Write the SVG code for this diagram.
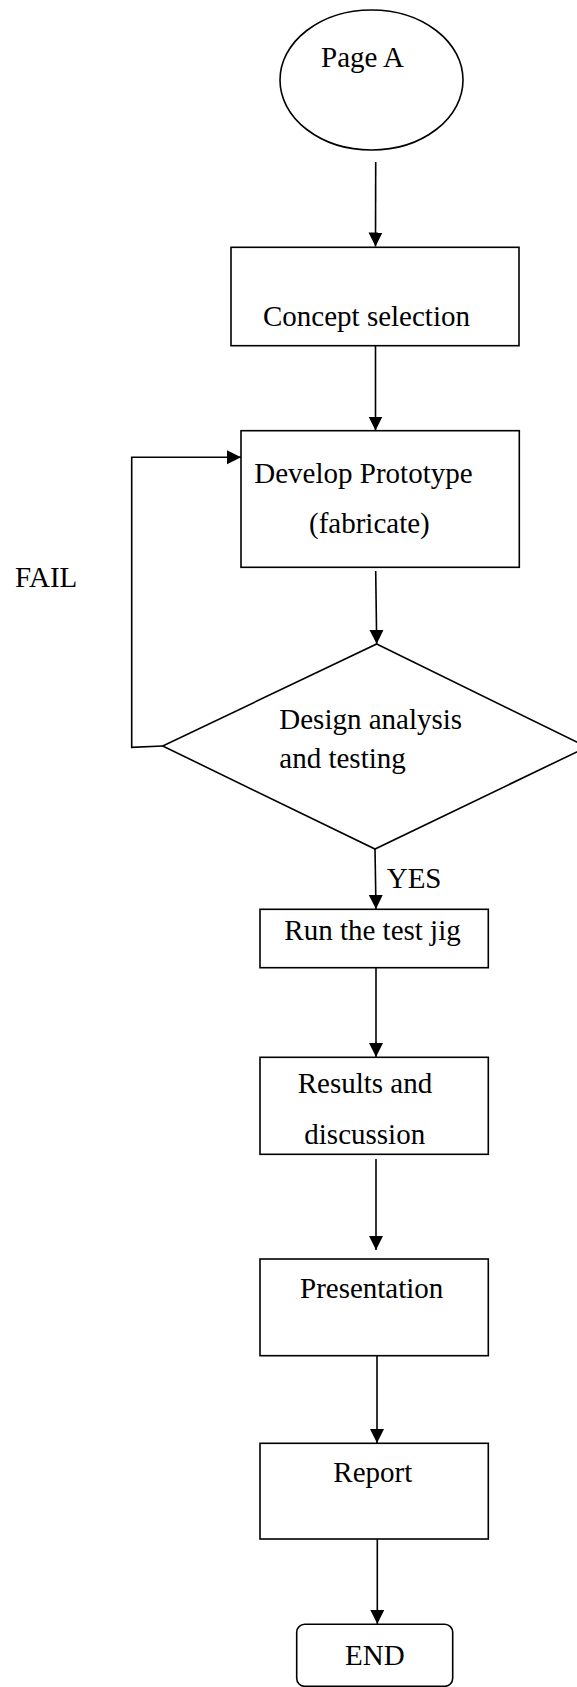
<svg xmlns="http://www.w3.org/2000/svg" width="577" height="1687" viewBox="0 0 577 1687">
<style>
.s{fill:#fff;stroke:#000;stroke-width:1.6}
.t{font-family:"Liberation Serif","Times New Roman",serif;font-size:29px;fill:#000}
.c{fill:none;stroke:#000;stroke-width:1.6}
</style>
<defs>
<marker id="ah" markerUnits="userSpaceOnUse" markerWidth="15" markerHeight="15" refX="14" refY="7" orient="auto">
<path d="M0,0 L14,7 L0,14 z" fill="#000"/>
</marker>
</defs>
<rect width="577" height="1687" fill="#fff"/>
<g id="connectors">
<line class="c" x1="375.7" y1="162" x2="375.5" y2="246.5" marker-end="url(#ah)"/>
<line class="c" x1="375.5" y1="346" x2="375.5" y2="430.5" marker-end="url(#ah)"/>
<line class="c" x1="375.7" y1="571" x2="376.7" y2="644" marker-end="url(#ah)"/>
<polyline class="c" points="162.7,746 131.7,747.3 131.7,457.3 241,457.3" marker-end="url(#ah)"/>
<line class="c" x1="375" y1="849" x2="376" y2="909" marker-end="url(#ah)"/>
<line class="c" x1="376" y1="968" x2="376" y2="1057" marker-end="url(#ah)"/>
<line class="c" x1="376" y1="1159" x2="376" y2="1250" marker-end="url(#ah)"/>
<line class="c" x1="377" y1="1356" x2="377" y2="1443" marker-end="url(#ah)"/>
<line class="c" x1="377.3" y1="1539" x2="377.3" y2="1624" marker-end="url(#ah)"/>
<text class="t" x="386.7" y="888.3">YES</text>
<text class="t" x="15" y="586.7">FAIL</text>
</g>
<g id="pageA">
<ellipse class="s" cx="371.5" cy="80" rx="91.5" ry="70"/>
<text class="t" x="321" y="66.7">Page A</text>
</g>
<g id="concept">
<rect class="s" x="231" y="247.3" width="288" height="98.4"/>
<text class="t" x="263" y="326">Concept selection</text>
</g>
<g id="develop">
<rect class="s" x="241" y="430.7" width="278.3" height="136.6"/>
<text class="t" x="254.3" y="483.3">Develop Prototype</text>
<text class="t" x="309" y="533">(fabricate)</text>
</g>
<g id="design">
<polygon class="s" points="376.7,644 587,747 375,849 162.7,746"/>
<text class="t" x="279.3" y="729">Design analysis</text>
<text class="t" x="279.3" y="768.3">and testing</text>
</g>
<g id="run">
<rect class="s" x="260" y="909.3" width="228.3" height="58.4"/>
<text class="t" x="284.3" y="940">Run the test jig</text>
</g>
<g id="results">
<rect class="s" x="260" y="1057.3" width="228.3" height="97"/>
<text class="t" x="297.7" y="1092.7">Results and</text>
<text class="t" x="304.3" y="1144">discussion</text>
</g>
<g id="presentation">
<rect class="s" x="260" y="1259" width="228.3" height="96.7"/>
<text class="t" x="300" y="1297.7">Presentation</text>
</g>
<g id="report">
<rect class="s" x="260" y="1443.3" width="228.3" height="95.7"/>
<text class="t" x="333.3" y="1481.7">Report</text>
</g>
<g id="end">
<rect class="s" x="296.7" y="1624.3" width="156" height="62" rx="8" ry="8"/>
<text class="t" x="345" y="1665">END</text>
</g>
</svg>
